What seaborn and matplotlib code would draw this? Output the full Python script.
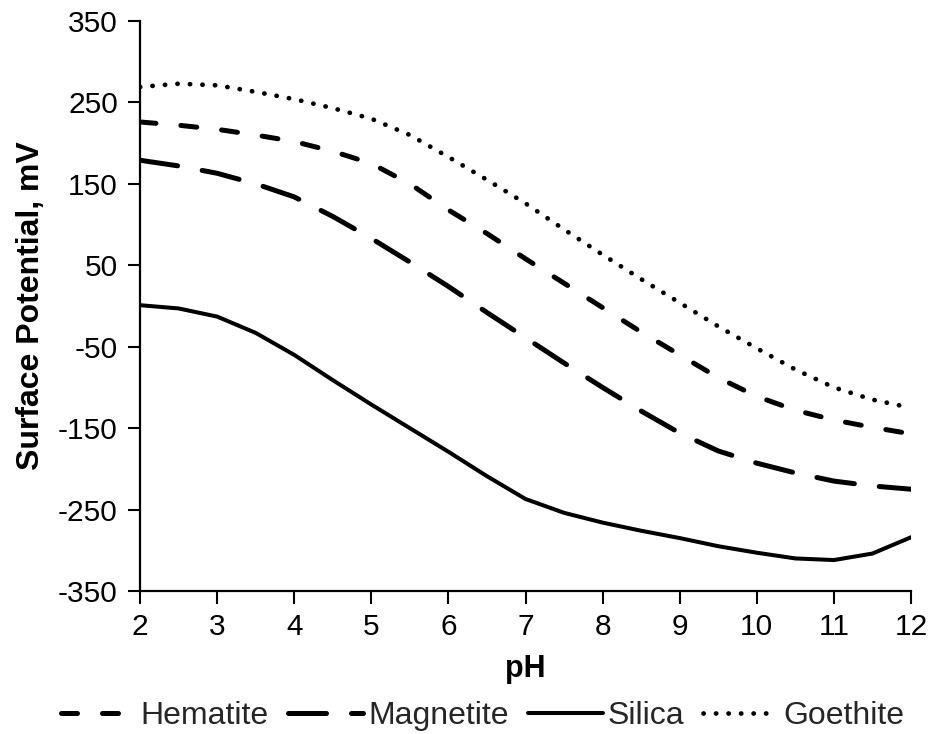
import numpy as np
import pandas as pd
import seaborn as sns
import matplotlib.pyplot as plt

# pH values and surface potentials (mV)
ph = [2, 2.5, 3, 3.5, 4, 4.5, 5, 5.5, 6, 6.5, 7, 7.5, 8, 8.5, 9, 9.5, 10, 10.5, 11, 11.5, 12]
hematite = [226, 222, 217, 210, 202, 190, 175, 150, 118, 89, 58, 28, -2, -32, -60, -88, -111, -128, -140, -149, -157]
magnetite = [179, 172, 163, 150, 134, 110, 83, 54, 24, -8, -39, -70, -100, -129, -156, -178, -193, -205, -215, -221, -225]
silica = [1, -3, -13, -33, -60, -91, -121, -150, -179, -209, -237, -254, -266, -276, -285, -295, -303, -310, -312, -304, -284]
goethite = [269, 273, 271, 263, 254, 243, 230, 210, 183, 155, 126, 94, 63, 33, 4, -25, -52, -78, -100, -115, -125]

series = ['Hematite', 'Magnetite', 'Silica', 'Goethite']
yticks = [350, 250, 150, 50, -50, -150, -250, -350]
xticks = [2, 3, 4, 5, 6, 7, 8, 9, 10, 11, 12]

df = pd.DataFrame({'pH': ph, 'Hematite': hematite, 'Magnetite': magnetite,
                   'Silica': silica, 'Goethite': goethite})
long_df = df.melt(id_vars='pH', var_name='Mineral', value_name='Potential')

sns.set_style('ticks')
plt.rcParams['font.family'] = ['Liberation Sans', 'DejaVu Sans']
plt.rcParams['axes.unicode_minus'] = False

fig = plt.figure(figsize=(9.35, 7.34), dpi=100)
ax = fig.add_axes([140 / 935, 1 - 591 / 734, 771 / 935, 570 / 734])

styles = {
    'Hematite': dict(lw=3.6, dashes=(3.2, 5.0)),
    'Magnetite': dict(lw=3.6, dashes=(7.6, 5.0)),
    'Silica': dict(lw=2.9, dashes=None),
    'Goethite': dict(lw=3.4, dashes=(0.05, 2.6)),
}

for name in series:
    sub = long_df[long_df['Mineral'] == name]
    st = styles[name]
    sns.lineplot(data=sub, x='pH', y='Potential', ax=ax, color='black',
                 linewidth=st['lw'], label=name)
    line = ax.get_lines()[-1]
    line.set_solid_capstyle('round')
    line.set_solid_joinstyle('round')
    line.set_dash_capstyle('round')
    if st['dashes'] is not None:
        line.set_dashes(st['dashes'])

ax.set_xlim(2, 12)
ax.set_ylim(-350, 350)
ax.set_xticks(xticks)
ax.set_yticks(yticks)
ax.tick_params(axis='both', labelsize=21.5, length=9, width=1.5, direction='out',
               color='black', pad=7, labelcolor='black')
for s in ['left', 'bottom']:
    ax.spines[s].set_linewidth(1.6)
    ax.spines[s].set_color('black')
sns.despine(ax=ax)

ax.set_xlabel('pH', fontsize=22, fontweight='bold', labelpad=9, color='black')
ax.set_ylabel('Surface Potential, mV', fontsize=23, fontweight='bold', labelpad=9, color='black')

fig.legend(loc='center', bbox_to_anchor=(0.516, 0.0245), ncol=4, frameon=False,
           fontsize=23, handlelength=2.35, handletextpad=0.15, columnspacing=0.6,
           borderaxespad=0, borderpad=0)
ax.get_legend().remove()

fig.savefig('out.png', dpi=100)
